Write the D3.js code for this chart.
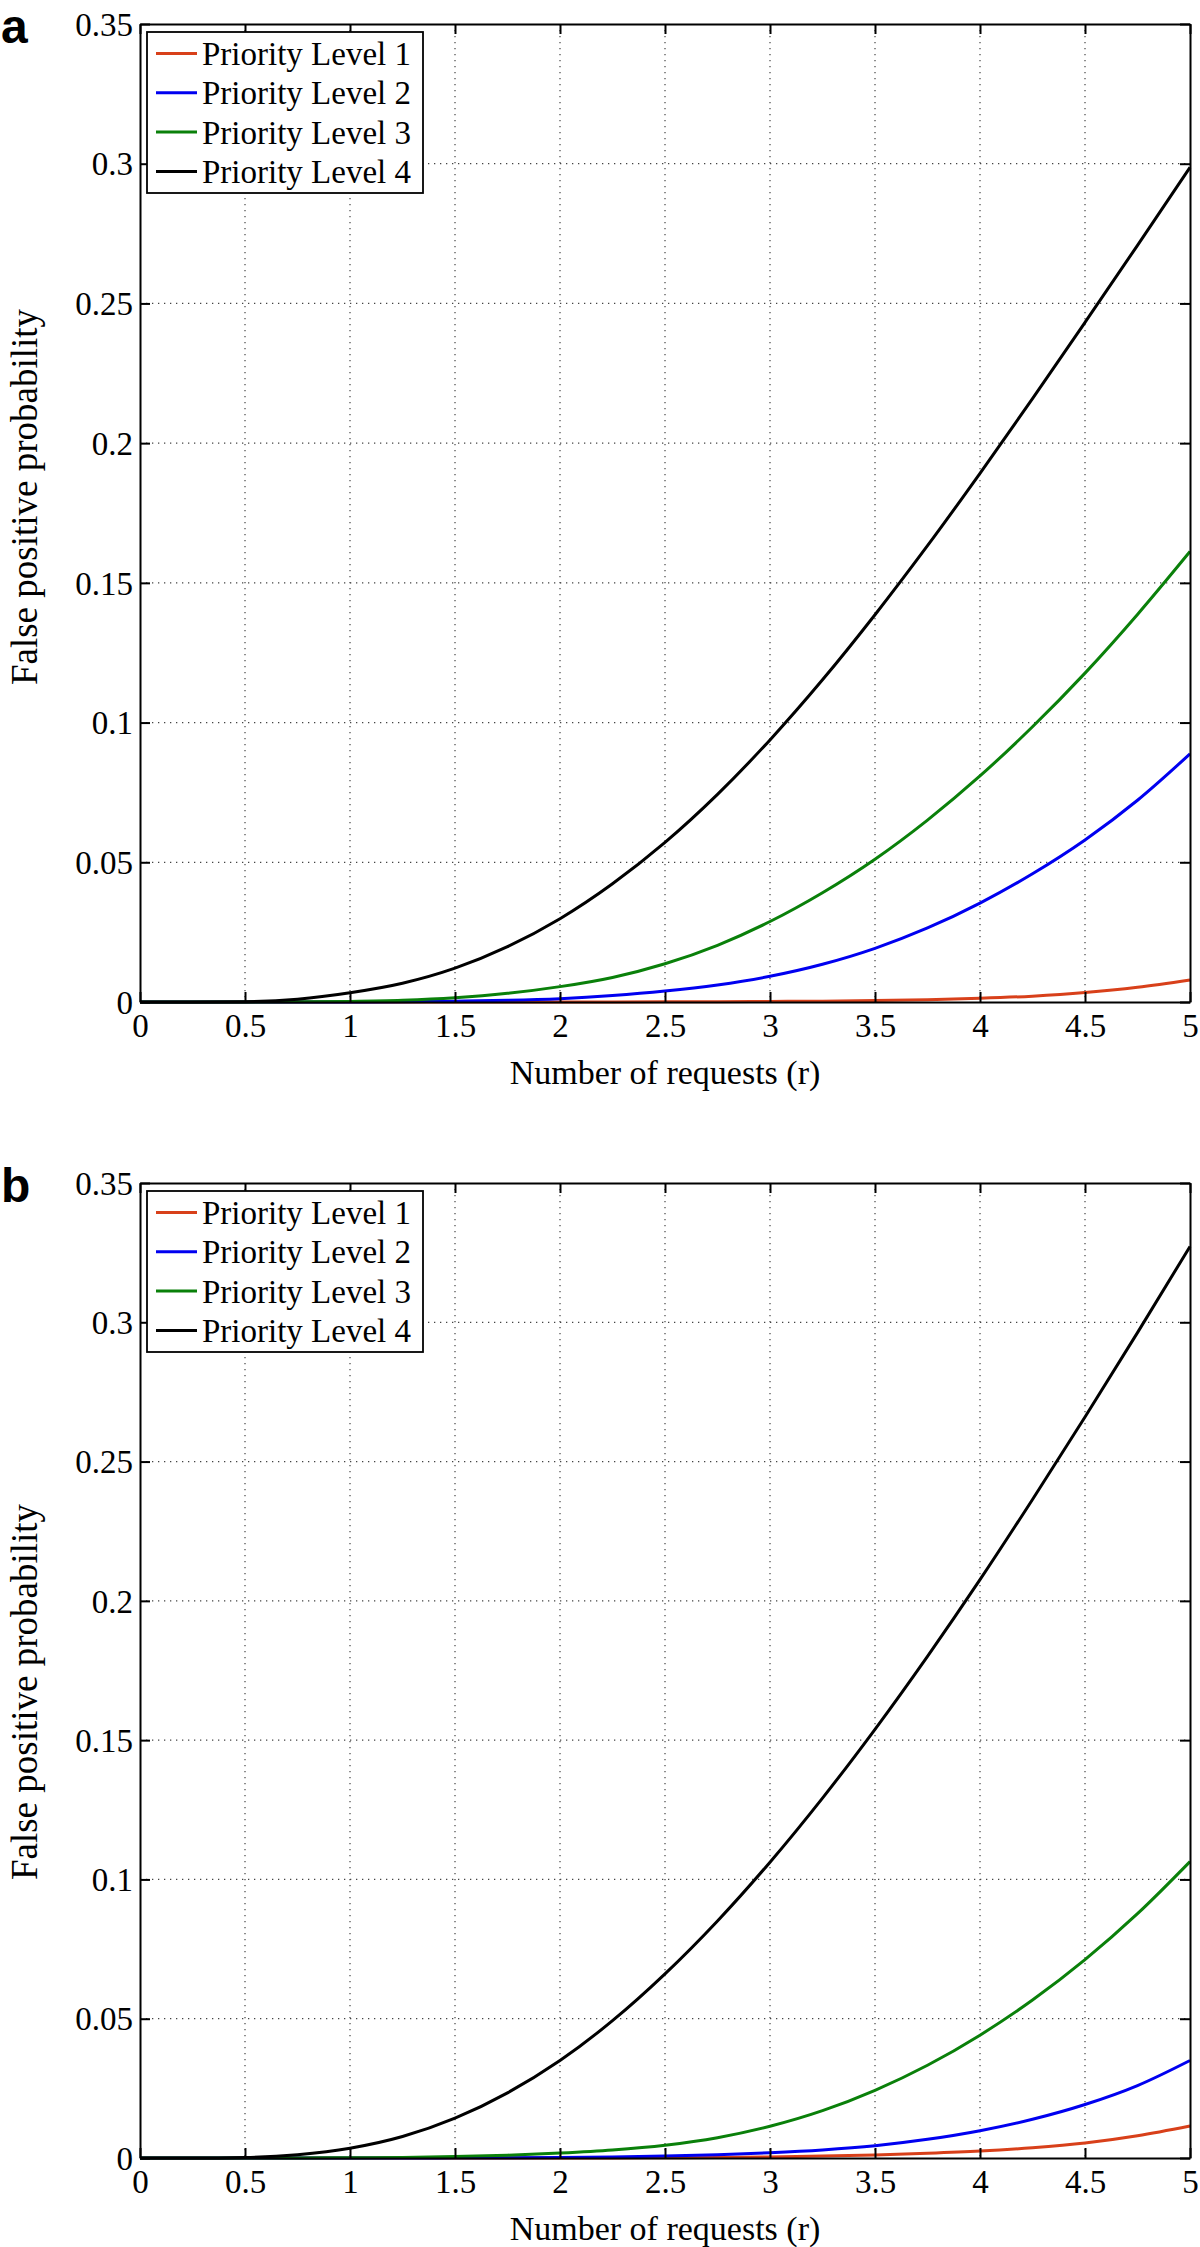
<!DOCTYPE html>
<html><head><meta charset="utf-8">
<script src="https://cdn.jsdelivr.net/npm/d3@7"></script>
<style>body{margin:0;background:#fff} svg{display:block}</style>
</head><body>
<svg id="c" width="1200" height="2247"></svg>
<script>
// ---- data ----
const xValues = [0,0.25,0.5,0.75,1,1.25,1.5,1.75,2,2.25,2.5,2.75,3,3.25,3.5,3.75,4,4.25,4.5,4.75,5];
const seriesNames = ["Priority Level 1","Priority Level 2","Priority Level 3","Priority Level 4"];
const seriesColors = ["#d8401a","#0000f0","#0a800a","#000000"];
const xTicks = [0,0.5,1,1.5,2,2.5,3,3.5,4,4.5,5];
const yTicks = [0,0.05,0.1,0.15,0.2,0.25,0.3,0.35];
const xLabel = "Number of requests (r)";
const yLabel = "False positive probability";
const panelLabels = ["a","b"];

// panel a
const a_L1 = [0,0,0,0,0,0,0,0,0,0.00002,0.00005,0.0001,0.0002,0.0003,0.0005,0.0008,0.0013,0.0021,0.0034,0.0053,0.0079];
const a_L2 = [0,0,0,0,0.00003,0.0001,0.0003,0.0006,0.0012,0.0023,0.0039,0.0061,0.0092,0.0135,0.0192,0.0265,0.0354,0.0459,0.058,0.0722,0.0888];
const a_L3 = [0,0,0,0.00005,0.0002,0.0006,0.0015,0.0031,0.0055,0.0088,0.0137,0.0203,0.0288,0.0391,0.0511,0.0651,0.0809,0.0985,0.1177,0.1387,0.1612];
const a_L4 = [0,0,0.0001,0.001,0.0033,0.0067,0.0121,0.0198,0.0298,0.0423,0.0571,0.0743,0.0938,0.1153,0.1386,0.1633,0.1892,0.2159,0.2432,0.2708,0.2987];
// panel b
const b_L1 = [0,0,0,0,0,0,0,0,0,0,0.0001,0.0002,0.0004,0.0007,0.0011,0.0017,0.0025,0.0037,0.0054,0.008,0.0115];
const b_L2 = [0,0,0,0,0,0,0.00005,0.0001,0.0002,0.0004,0.0007,0.0012,0.0019,0.0029,0.0044,0.0067,0.0098,0.0139,0.0192,0.026,0.035];
const b_L3 = [0,0,0,0,0.0001,0.0002,0.0005,0.001,0.0018,0.0029,0.0046,0.0073,0.0114,0.017,0.0243,0.0333,0.0441,0.0567,0.0712,0.0877,0.1064];
const b_L4 = [0,0,0.0002,0.0012,0.0035,0.0077,0.0143,0.0234,0.035,0.0493,0.0661,0.0851,0.1062,0.1292,0.1539,0.1801,0.2076,0.2364,0.266,0.2963,0.3272];

const panels = [
  {label: panelLabels[0], top: 24, bottom: 1002, ylabCenter: 497, series: [a_L1,a_L2,a_L3,a_L4]},
  {label: panelLabels[1], top: 1183, bottom: 2158, ylabCenter: 1692, series: [b_L1,b_L2,b_L3,b_L4]}
];

const svg = d3.select("#c");
const left = 140, right = 1190;
const serif = "'Liberation Serif','Times New Roman',serif";
const fmt = v => String(+v.toFixed(2));

panels.forEach(p => {
  const x = d3.scaleLinear().domain([0,5]).range([left,right]);
  const y = d3.scaleLinear().domain([0,0.35]).range([p.bottom,p.top]);
  const g = svg.append("g");

  // grid
  g.append("g").selectAll("line").data(xTicks.slice(1,-1)).join("line")
    .attr("x1",d=>x(d)).attr("x2",d=>x(d)).attr("y1",p.top).attr("y2",p.bottom)
    .attr("stroke","#444").attr("stroke-width",1.2).attr("stroke-dasharray","1.3,4.7");
  g.append("g").selectAll("line").data(yTicks.slice(1,-1)).join("line")
    .attr("y1",d=>y(d)).attr("y2",d=>y(d)).attr("x1",left).attr("x2",right)
    .attr("stroke","#444").attr("stroke-width",1.2).attr("stroke-dasharray","1.3,4.7");

  // lines
  const line = d3.line().x((d,i)=>x(xValues[i])).y(d=>y(d)).curve(d3.curveMonotoneX);
  p.series.forEach((s,i) => {
    g.append("path").datum(s).attr("d",line).attr("fill","none")
      .attr("stroke",seriesColors[i]).attr("stroke-width",3).attr("stroke-linejoin","round");
  });

  // axes
  const ax = g.append("g").attr("transform",`translate(0,${p.bottom})`)
    .call(d3.axisBottom(x).tickValues(xTicks).tickFormat(fmt).tickSizeInner(-10).tickSizeOuter(0).tickPadding(12));
  const ay = g.append("g").attr("transform",`translate(${left},0)`)
    .call(d3.axisLeft(y).tickValues(yTicks).tickFormat(fmt).tickSizeInner(-10).tickSizeOuter(0).tickPadding(7));
  const at = g.append("g").attr("transform",`translate(0,${p.top})`)
    .call(d3.axisTop(x).tickValues(xTicks).tickFormat("").tickSizeInner(-10).tickSizeOuter(0));
  const ar = g.append("g").attr("transform",`translate(${right},0)`)
    .call(d3.axisRight(y).tickValues(yTicks).tickFormat("").tickSizeInner(-10).tickSizeOuter(0));
  [ax,ay,at,ar].forEach(a => {
    a.attr("font-family",serif).attr("font-size",33);
    a.select(".domain").attr("stroke","#000").attr("stroke-width",2);
    a.selectAll(".tick line").attr("stroke","#000").attr("stroke-width",2);
    a.selectAll(".tick text").attr("font-family",serif).attr("font-size",33).attr("fill","#000")
      .style("font-family",serif);
  });
  ay.selectAll(".tick text").attr("dy","0.34em");

  // axis labels
  g.append("text").attr("x",(left+right)/2).attr("y",p.bottom+82)
    .attr("text-anchor","middle").attr("font-family",serif).attr("font-size",34).text(xLabel);
  g.append("text").attr("transform",`translate(37,${p.ylabCenter}) rotate(-90)`)
    .attr("text-anchor","middle").attr("font-family",serif).attr("font-size",37).text(yLabel);

  // panel label
  g.append("text").attr("x",1).attr("y",p.top+19).attr("font-family","'Liberation Sans',Arial,sans-serif")
    .attr("font-weight","bold").attr("font-size",48).text(p.label);

  // legend
  const lg = g.append("g").attr("transform",`translate(147,${p.top+8})`);
  lg.append("rect").attr("x",0).attr("y",0).attr("width",276).attr("height",161)
    .attr("fill","#fff").attr("stroke","#000").attr("stroke-width",1.8);
  seriesNames.forEach((n,i) => {
    const yy = 33 + i*39.3;
    lg.append("line").attr("x1",9).attr("x2",50).attr("y1",yy-11.5).attr("y2",yy-11.5)
      .attr("stroke",seriesColors[i]).attr("stroke-width",3);
    lg.append("text").attr("x",55).attr("y",yy).attr("font-family",serif).attr("font-size",33).text(n);
  });
});
</script>
</body></html>
